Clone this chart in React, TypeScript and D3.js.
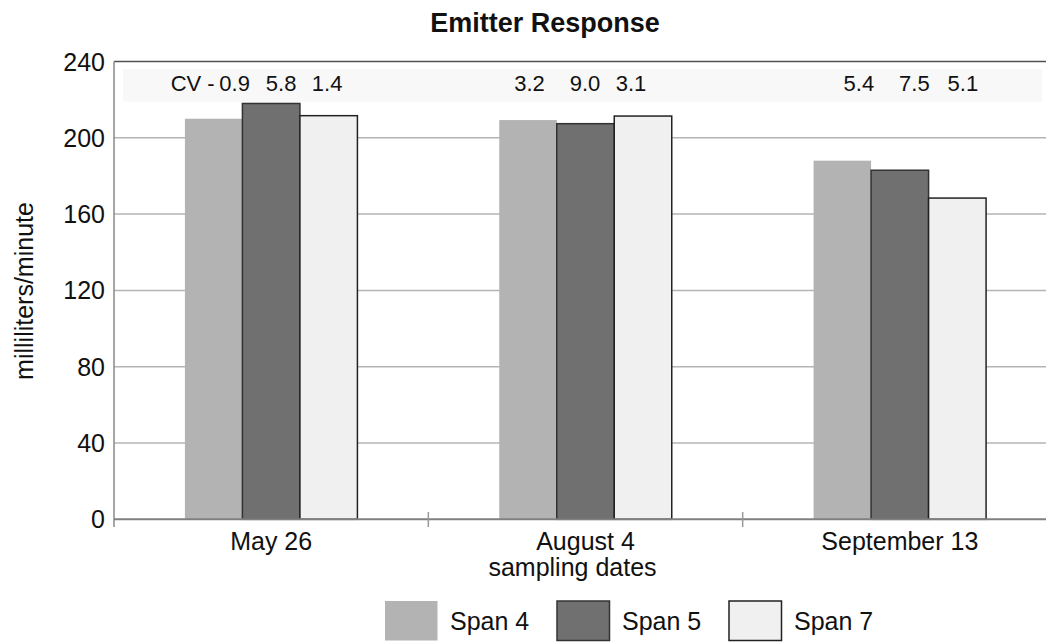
import React from "react";
import * as d3 from "d3";

const dates = ["May 26", "August 4", "September 13"];
const seriesNames = ["Span 4", "Span 5", "Span 7"];
const span4 = [210, 209.3, 188];
const span5 = [218, 207.4, 183];
const span7 = [211.6, 211.4, 168.4];
const cvSpan4 = ["0.9", "3.2", "5.4"];
const cvSpan5 = ["5.8", "9.0", "7.5"];
const cvSpan7 = ["1.4", "3.1", "5.1"];
const yTicks = [0, 40, 80, 120, 160, 200, 240];

const W = 1046;
const H = 644;
const left = 114;
const plotRight = 1057;
const top = 61.5;
const bottom = 519.3;
const groupW = 172.5;
const FONT = "'Liberation Sans', Arial, Helvetica, sans-serif";

const fills = ["#b3b3b3", "#707070", "#f0f0f0"];
const strokes = ["none", "#333333", "#222222"];
// horizontal nudges of the CV labels relative to their bar centres (layout only)
const cvDx = [
  [21, 10, -1.5],
  [1.5, -0.5, -12],
  [16.5, 14.5, 5.5],
];

export default function App() {
  const x = d3.scaleBand<string>().domain(dates).range([left, plotRight]);
  const inner = d3.scaleBand<string>().domain(seriesNames).range([0, groupW]);
  const y = d3.scaleLinear().domain([0, 240]).range([bottom, top]);
  const values = [span4, span5, span7];
  const cvs = [cvSpan4, cvSpan5, cvSpan7];
  const groupStart = (d: string) => (x(d) as number) + (x.bandwidth() - groupW) / 2;

  const boundaries = dates.slice(1).map((d) => x(d) as number);

  return (
    <svg
      width={W}
      height={H}
      style={{ position: "absolute", left: 0, top: 0, background: "#fff" }}
      fontFamily={FONT}
    >
      <rect x={0} y={0} width={W} height={H} fill="#ffffff" />
      {/* title */}
      <text x={545} y={32} textAnchor="middle" fontSize={27} fontWeight="bold" fill="#111">
        Emitter Response
      </text>

      {/* CV band */}
      <rect x={123} y={69} width={919} height={32.7} fill="#f8f8f8" />

      {/* gridlines */}
      {yTicks
        .filter((t) => t > 0 && t < 240)
        .map((t) => (
          <line key={t} x1={left} x2={W} y1={y(t)} y2={y(t)} stroke="#b4b4b4" strokeWidth={1.5} />
        ))}
      <line x1={left} x2={W} y1={y(240)} y2={y(240)} stroke="#505050" strokeWidth={1.3} />

      {/* y tick labels */}
      {yTicks.map((t) => (
        <text key={t} x={105} y={y(t) + 9} textAnchor="end" fontSize={25} fill="#111">
          {t}
        </text>
      ))}

      {/* y axis title */}
      <text
        transform={`translate(33, 291) rotate(-90)`}
        textAnchor="middle"
        fontSize={25}
        fill="#111"
      >
        milliliters/minute
      </text>

      {/* bars */}
      {dates.map((d, i) =>
        seriesNames.map((s, j) => {
          const bx = groupStart(d) + (inner(s) as number);
          const v = values[j][i];
          return (
            <rect
              key={d + s}
              x={bx}
              y={y(v)}
              width={inner.bandwidth()}
              height={y(0) - y(v)}
              fill={fills[j]}
              stroke={strokes[j]}
              strokeWidth={1.5}
            />
          );
        })
      )}

      {/* CV labels */}
      <text x={groupStart(dates[0]) + (inner(seriesNames[0]) as number) + inner.bandwidth() / 2 + cvDx[0][0] - 20} y={90.7} textAnchor="end" fontSize={22} fill="#111">
        CV -
      </text>
      {dates.map((d, i) =>
        seriesNames.map((s, j) => (
          <text
            key={"cv" + d + s}
            x={groupStart(d) + (inner(s) as number) + inner.bandwidth() / 2 + cvDx[i][j]}
            y={90.7}
            textAnchor="middle"
            fontSize={22}
            fill="#111"
          >
            {cvs[j][i]}
          </text>
        ))
      )}

      {/* axes */}
      <line x1={left} x2={left} y1={top} y2={527} stroke="#8a8a8a" strokeWidth={1.5} />
      <line x1={left} x2={W} y1={bottom} y2={bottom} stroke="#808080" strokeWidth={2} />
      {boundaries.map((bx) => (
        <line key={bx} x1={bx} x2={bx} y1={512} y2={527} stroke="#999" strokeWidth={1.5} />
      ))}

      {/* x labels */}
      {dates.map((d) => (
        <text
          key={"xl" + d}
          x={(x(d) as number) + x.bandwidth() / 2}
          y={550}
          textAnchor="middle"
          fontSize={25}
          fill="#111"
        >
          {d}
        </text>
      ))}
      <text x={572.5} y={576} textAnchor="middle" fontSize={25} fill="#111">
        sampling dates
      </text>

      {/* legend */}
      {seriesNames.map((s, j) => {
        const lx = 385 + j * 172;
        return (
          <g key={"lg" + s}>
            <rect
              x={lx}
              y={601}
              width={52.5}
              height={39.5}
              fill={fills[j]}
              stroke={strokes[j]}
              strokeWidth={1.5}
            />
            <text x={lx + 65} y={630} fontSize={25} fill="#111">
              {s}
            </text>
          </g>
        );
      })}
    </svg>
  );
}
